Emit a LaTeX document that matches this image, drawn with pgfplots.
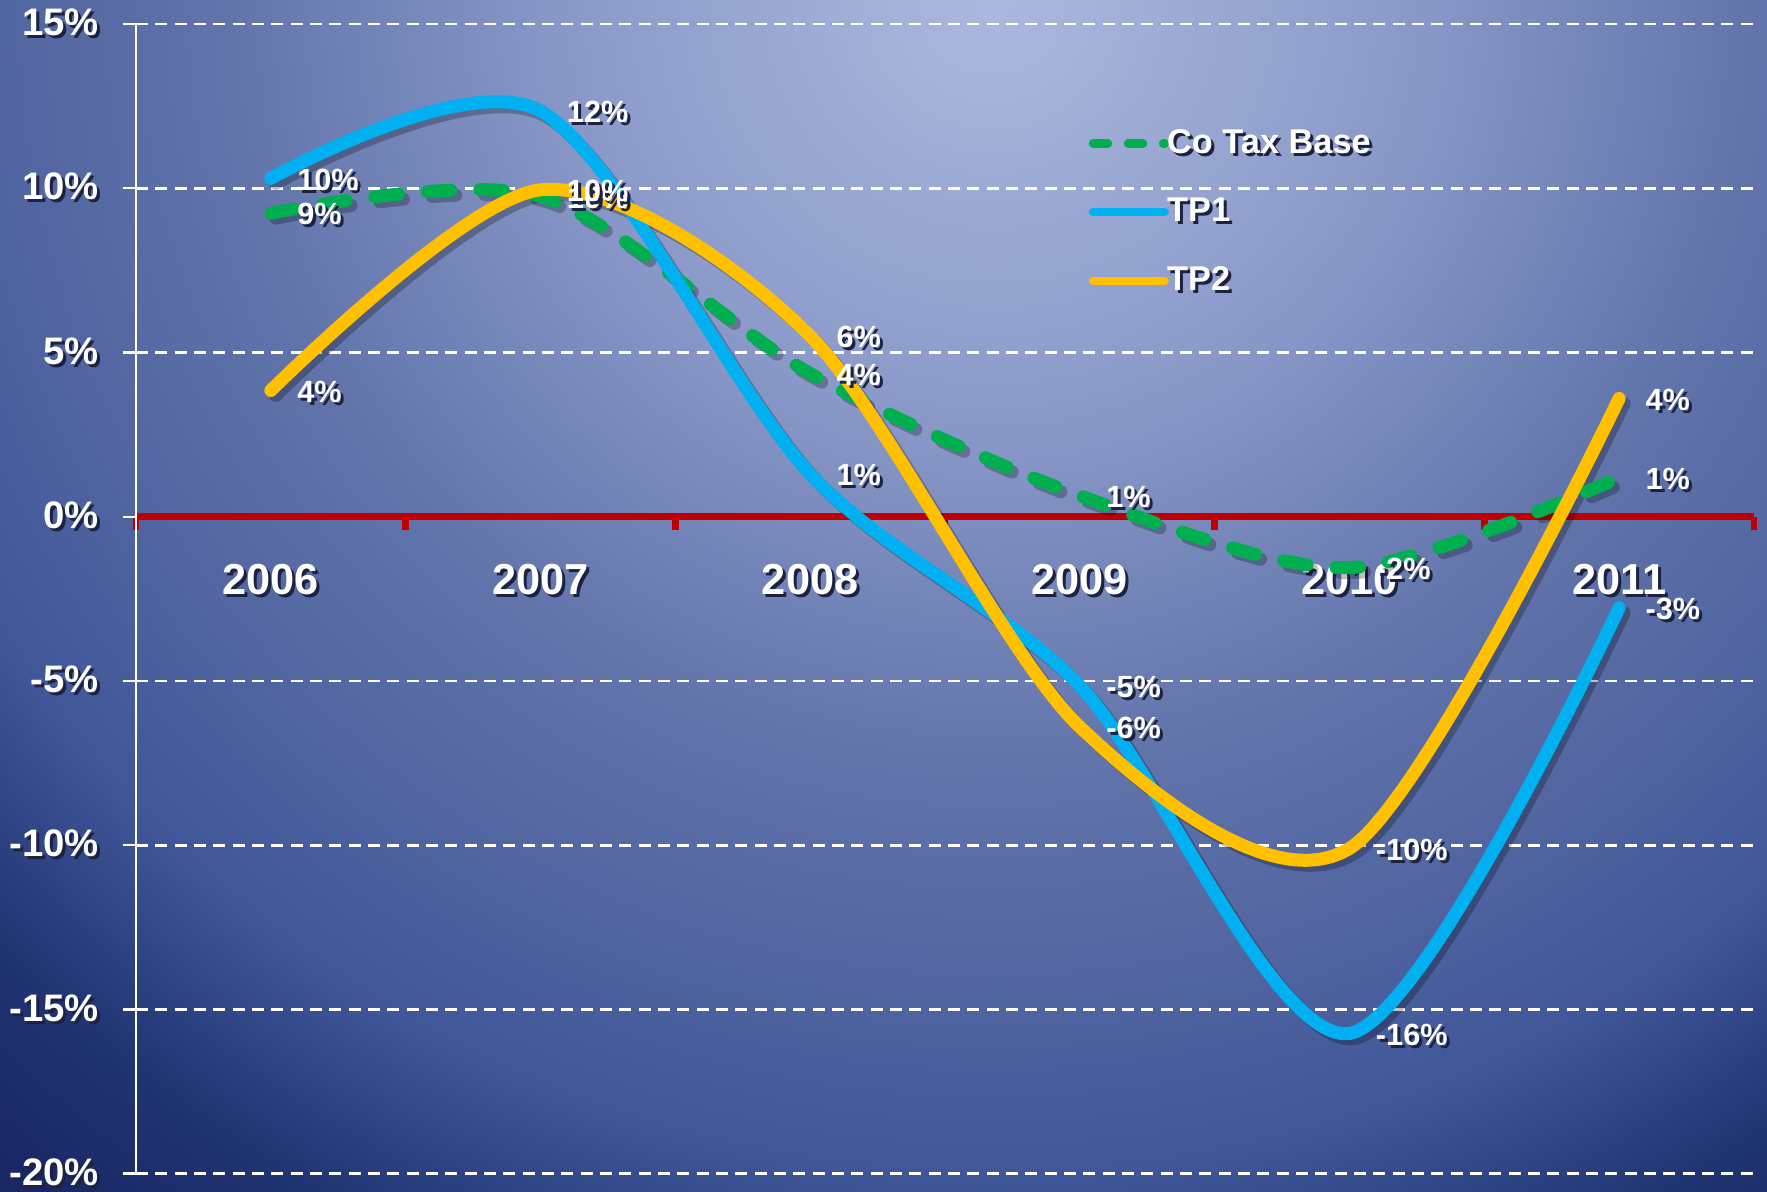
\documentclass[border=0pt]{standalone}
\usepackage{pgfplots}
\usepackage{pgfplotstable}
\pgfplotsset{compat=1.18}
\usepackage{fontspec}
\setmainfont{Liberation Sans}
\definecolor{cgreen}{RGB}{0,176,80}
\definecolor{cblue}{RGB}{0,176,240}
\definecolor{cyellow}{RGB}{255,192,0}
\definecolor{cred}{RGB}{192,0,0}
\definecolor{shd}{RGB}{28,34,66}
\definecolor{bg0}{RGB}{172,184,222}
\definecolor{bg1}{RGB}{140,155,202}
\definecolor{bg2}{RGB}{96,115,170}
\definecolor{bg3}{RGB}{80,100,160}
\definecolor{bg4}{RGB}{63,86,152}
\definecolor{bg5}{RGB}{32,52,114}
\definecolor{bg6}{RGB}{24,38,98}
\pgfdeclareradialshading{bgshade}{\pgfpoint{0bp}{0bp}}{color(0bp)=(bg0); color(6.25bp)=(bg1); color(12.1bp)=(bg2); color(15.6bp)=(bg3); color(18.4bp)=(bg4); color(21.4bp)=(bg5); color(24.2bp)=(bg6); color(26bp)=(bg6)}
\newcommand\st[1]{\makebox[0pt][l]{\hspace{0.9pt}\raisebox{-0.9pt}{\color{shd}#1}}#1}

\pgfplotstableread{
x y label
0 9.24 9\%
1 9.75 10\%
2 4.36 4\%
3 0.64 1\%
4 -1.55 -2\%
5 1.19 1\%
}\cotax
\pgfplotstableread{
x y label
0 10.3 10\%
1 12.35 12\%
2 1.3 1\%
3 -5.15 -5\%
4 -15.73 -16\%
5 -2.77 -3\%
}\tpone
\pgfplotstableread{
x y label
0 3.84 4\%
1 9.95 10\%
2 5.5 6\%
3 -6.4 -6\%
4 -10.1 -10\%
5 3.6 4\%
}\tptwo

\begin{document}
\begin{tikzpicture}
\path[use as bounding box] (0,0) rectangle (530.1pt,357.6pt);
\begin{scope}
\clip (0,0) rectangle (530.1pt,357.6pt);
\shade[shading=bgshade] (-182.4pt,-122.4pt) rectangle (777.6pt,837.6pt);
\end{scope}
\clip (0,0) rectangle (530.1pt,357.6pt);
\begin{axis}[
  at={(40.8pt,5.5pt)}, anchor=south west,
  scale only axis, width=485.4pt, height=344.9pt,
  xmin=-0.5, xmax=5.5, ymin=-20, ymax=15,
  clip=false,
  axis x line=middle, axis y line=left,
  x axis line style={-, draw=cred, line width=2.2pt},
  y axis line style={-, draw=white, line width=0.7pt},
  hide obscured x ticks=false, hide obscured y ticks=false,
  xtick={-0.5,0.5,1.5,2.5,3.5,4.5,5.5},
  xticklabels={\st{2006},\st{2007},\st{2008},\st{2009},\st{2010},\st{2011},{}},
  xticklabel style={xshift=40.45pt, yshift=-6.6pt, anchor=north, text=white,
    font=\fontsize{13}{13}\selectfont\bfseries},
  x tick style={draw=cred, line width=2pt},
  ytick={-20,-15,-10,-5,0,5,10,15},
  yticklabels={\st{-20\%},\st{-15\%},\st{-10\%},\st{-5\%},\st{0\%},\st{5\%},\st{10\%},\st{15\%}},
  yticklabel style={xshift=-3.6pt, anchor=east, text=white,
    font=\fontsize{11.5}{11.5}\selectfont\bfseries},
  y tick style={draw=white, line width=0.7pt},
  tick align=outside, major tick length=4pt,
  ymajorgrids,
  major grid style={white, line width=0.8pt, dash pattern=on 3.6pt off 2.2pt},
  point meta=explicit symbolic,
  nodes near coords style={anchor=west, xshift=5pt, yshift=-0.8pt, text=white, inner sep=1pt,
    font=\fontsize{9.2}{9.2}\selectfont\bfseries},
  legend style={at={(rel axis cs:0.5885,0.915)}, anchor=north west, draw=none, fill=none,
    text=white, font=\fontsize{10.3}{10.3}\selectfont\bfseries, row sep=8pt, inner sep=0pt},
  legend cell align=left,
]
% shadows
\addplot[smooth, forget plot, black, opacity=0.25, line width=3.9pt, line cap=round,
  dash pattern=on 7.1pt off 8.7pt, xshift=1.5pt, yshift=-1.5pt] table[x=x,y=y] {\cotax};
\addplot[smooth, forget plot, black, opacity=0.25, line width=3.9pt, line cap=round,
  xshift=1.5pt, yshift=-1.5pt] table[x=x,y=y] {\tpone};
\addplot[smooth, forget plot, black, opacity=0.25, line width=3.9pt, line cap=round,
  xshift=1.5pt, yshift=-1.5pt] table[x=x,y=y] {\tptwo};
% series
\addplot[smooth, cgreen, line width=3.9pt, line cap=round, dash pattern=on 7.1pt off 8.7pt,
  nodes near coords={\st{\pgfplotspointmeta}},
  legend image code/.code={\draw[cgreen, line width=2.5pt, line cap=round, dash pattern=on 4.5pt off 6pt] (0pt,0pt) -- (21.5pt,0pt);}]
  table[x=x,y=y,meta=label] {\cotax};
\addlegendentry{\hspace*{-2.5pt}\st{Co Tax Base}}
\addplot[smooth, cblue, line width=3.9pt, line cap=round,
  nodes near coords={\st{\pgfplotspointmeta}},
  legend image code/.code={\draw[cblue, line width=2.5pt, line cap=round] (0pt,0pt) -- (21.5pt,0pt);}]
  table[x=x,y=y,meta=label] {\tpone};
\addlegendentry{\hspace*{-2.5pt}\st{TP1}}
\addplot[smooth, cyellow, line width=3.9pt, line cap=round,
  nodes near coords={\st{\pgfplotspointmeta}},
  legend image code/.code={\draw[cyellow, line width=2.5pt, line cap=round] (0pt,0pt) -- (21.5pt,0pt);}]
  table[x=x,y=y,meta=label] {\tptwo};
\addlegendentry{\hspace*{-2.5pt}\st{TP2}}
\end{axis}
\end{tikzpicture}
\end{document}
